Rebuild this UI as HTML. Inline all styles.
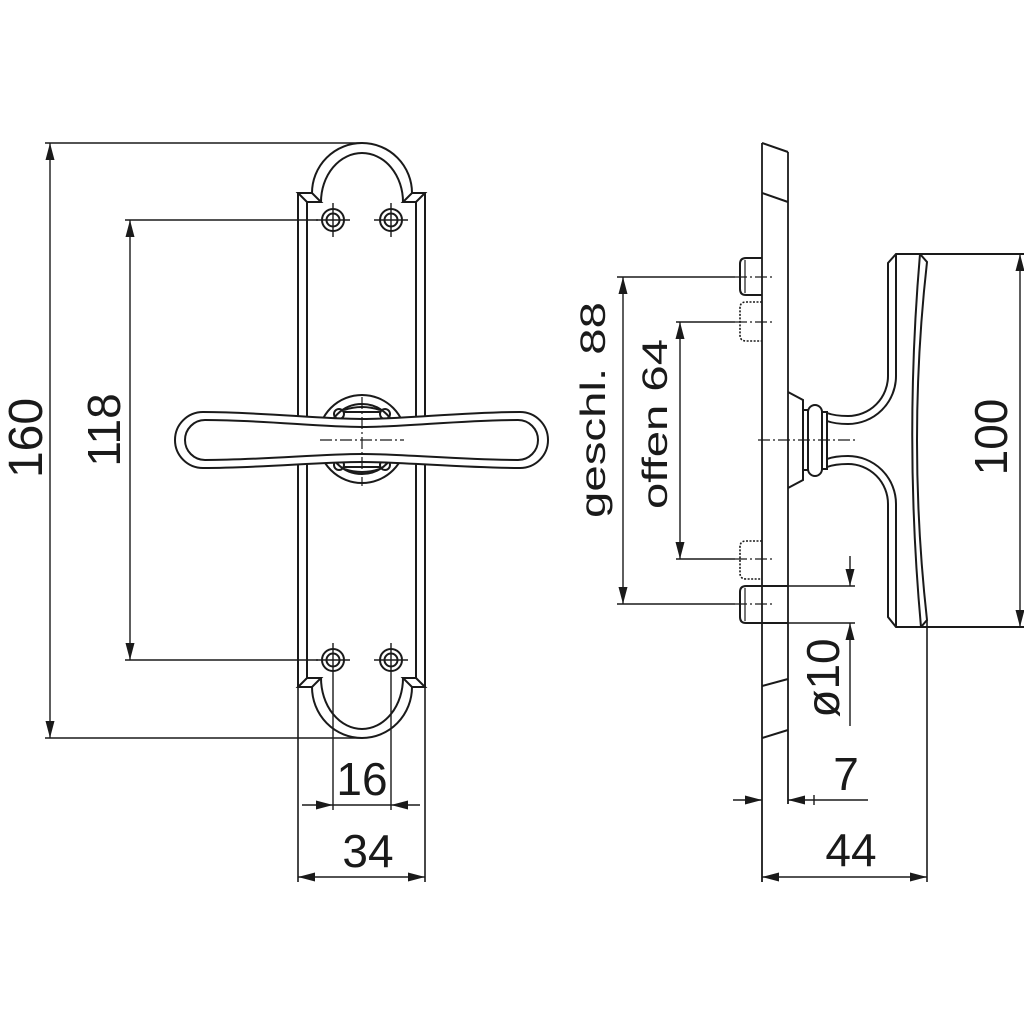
<!DOCTYPE html>
<html><head><meta charset="utf-8"><style>
html,body{margin:0;padding:0;background:#fff;}
svg{display:block;}
text{font-family:"Liberation Sans",Arial,sans-serif;fill:#1a1a1a;}
</style></head><body>
<svg width="1024" height="1024" viewBox="0 0 1024 1024" xmlns="http://www.w3.org/2000/svg">
<rect width="1024" height="1024" fill="#fff"/>
<g fill="none" stroke="#1a1a1a" stroke-linecap="butt">

<!-- ===== FRONT VIEW ===== -->
<g stroke-width="2">
  <!-- plate verticals -->
  <line x1="298" y1="193" x2="298" y2="882" stroke-width="1.6"/>
  <line x1="425" y1="193" x2="425" y2="882" stroke-width="1.6"/>
  <line x1="298" y1="193" x2="298" y2="687"/>
  <line x1="425" y1="193" x2="425" y2="687"/>
  <line x1="307" y1="202" x2="307" y2="678"/>
  <line x1="416" y1="202" x2="416" y2="678"/>
  <!-- top bevels -->
  <path d="M298,193 L312,193 L321,202 L307,202 Z"/>
  <path d="M425,193 L412,193 L403,202 L416,202 Z"/>
  <!-- top arch -->
  <path d="M312,193 A50 50 0 0 1 412,193"/>
  <path d="M321,202 A41 49 0 0 1 403,202"/>
  <!-- bottom bevels -->
  <path d="M298,687 L312,687 L321,678 L307,678 Z"/>
  <path d="M425,687 L412,687 L403,678 L416,678 Z"/>
  <!-- bottom arch -->
  <path d="M312,687 A50 51 0 0 0 412,687"/>
  <path d="M321,678 A41 51 0 0 0 403,678"/>
  <!-- screws -->
  <circle cx="333" cy="220" r="11"/><circle cx="333" cy="220" r="6.5"/>
  <circle cx="391" cy="220" r="11"/><circle cx="391" cy="220" r="6.5"/>
  <circle cx="333" cy="660" r="11"/><circle cx="333" cy="660" r="6.5"/>
  <circle cx="391" cy="660" r="11"/><circle cx="391" cy="660" r="6.5"/>
</g>
<g stroke-width="1.4">
  <line x1="316" y1="220" x2="350" y2="220"/><line x1="333" y1="203" x2="333" y2="237"/>
  <line x1="374" y1="220" x2="408" y2="220"/><line x1="391" y1="203" x2="391" y2="237"/>
  <line x1="316" y1="660" x2="350" y2="660"/><line x1="333" y1="643" x2="333" y2="810"/>
  <line x1="374" y1="660" x2="408" y2="660"/><line x1="391" y1="643" x2="391" y2="810"/>
</g>
<!-- rosette -->
<g stroke-width="2">
  <circle cx="362" cy="439" r="44"/>
  <circle cx="362" cy="439" r="35"/>
  <circle cx="339" cy="414" r="5"/><circle cx="385" cy="414" r="5"/>
  <circle cx="339" cy="465" r="5"/><circle cx="385" cy="465" r="5"/>
  <path d="M344,410 Q362,404 380,410"/>
  <path d="M344,469 Q362,475 380,469"/>
  <line x1="344" y1="412" x2="380" y2="412"/>
  <line x1="344" y1="467" x2="380" y2="467"/>
</g>
<!-- handle -->
<path d="M203,412 C260,412 320,419 362,419 C404,419 464,412 520,412 A28 28 0 0 1 520,468 C464,468 404,462 362,462 C320,462 260,468 203,468 A28 28 0 0 1 203,412 Z" fill="#fff" stroke-width="2"/>
<path d="M205,420 C262,420 320,427 362,427 C404,427 462,420 518,420 A20 20 0 0 1 518,460 C462,460 404,454 362,454 C320,454 262,460 205,460 A20 20 0 0 1 205,420 Z" stroke-width="2"/>
<!-- centerlines -->
<g stroke-width="1.2" stroke-dasharray="12 3 2 3">
  <line x1="320" y1="440" x2="404" y2="440"/>
  <line x1="362" y1="397" x2="362" y2="486"/>
</g>

<!-- front dims -->
<g stroke-width="1.4">
  <line x1="45" y1="143" x2="362" y2="143"/>
  <line x1="45" y1="738" x2="362" y2="738"/>
  <line x1="50" y1="143" x2="50" y2="738"/>
  <line x1="125" y1="220" x2="318" y2="220"/>
  <line x1="125" y1="660" x2="318" y2="660"/>
  <line x1="130" y1="220" x2="130" y2="660"/>
  <line x1="302" y1="805" x2="420" y2="805"/>
  <line x1="298" y1="877" x2="425" y2="877"/>
</g>
<g fill="#1a1a1a" stroke="none">
  <polygon points="50,143 45.5,160 54.5,160"/>
  <polygon points="50,738 45.5,721 54.5,721"/>
  <polygon points="130,220 125.5,237 134.5,237"/>
  <polygon points="130,660 125.5,643 134.5,643"/>
  <polygon points="333,805 316,800.5 316,809.5"/>
  <polygon points="391,805 408,800.5 408,809.5"/>
  <polygon points="298,877 315,872.5 315,881.5"/>
  <polygon points="425,877 408,872.5 408,881.5"/>
</g>

<!-- ===== SIDE VIEW ===== -->
<g stroke-width="2">
  <line x1="762" y1="143" x2="762" y2="882" stroke-width="1.8"/>
  <line x1="788" y1="152" x2="788" y2="804" stroke-width="1.8"/>
  <line x1="762" y1="143" x2="788" y2="152"/>
  <line x1="762" y1="193" x2="788" y2="202"/>
  <line x1="762" y1="686" x2="788" y2="679"/>
  <line x1="762" y1="738" x2="788" y2="730"/>
  <!-- pins -->
  <path d="M762,258 L746,258 Q740,258 740,264 L740,289 Q740,295 746,295 L762,295"/>
  <line x1="745" y1="260" x2="745" y2="293" stroke-width="1.2"/>
  <path d="M762,586 L746,586 Q740,586 740,592 L740,617 Q740,623 746,623 L762,623"/>
  <line x1="745" y1="588" x2="745" y2="621" stroke-width="1.2"/>
  <line x1="788" y1="586" x2="855" y2="586" stroke-width="1.6"/>
  <line x1="788" y1="623" x2="855" y2="623" stroke-width="1.6"/>
  <line x1="762" y1="586" x2="788" y2="586"/>
  <line x1="762" y1="623" x2="788" y2="623"/>
</g>
<g stroke-width="1.6" stroke-dasharray="2 1.5">
  <path d="M762,302 L746,302 Q740,302 740,308 L740,335 Q740,341 746,341 L762,341"/>
  <path d="M762,541 L746,541 Q740,541 740,547 L740,573 Q740,579 746,579 L762,579"/>
</g>
<!-- rose + handle side -->
<g stroke-width="2">
  <path d="M788,392 L803,400 L803,480 L788,488"/>
  <rect x="803" y="410" width="5" height="60"/>
  <rect x="808" y="405" width="14" height="71" rx="7" ry="7" fill="#fff"/>
  <rect x="822" y="412" width="5" height="57"/>
  <path d="M827,413 Q835,416 848,416 A40 40 0 0 0 888,376 L888,263 L896,254 L1024,254"/>
  <path d="M827,421 Q835,424 848,424 A48 48 0 0 0 896,376 L896,254"/>
  <path d="M827,467 Q835,464 848,464 A40 40 0 0 1 888,504 L888,617 L896,627 L1024,627"/>
  <path d="M827,459 Q835,456 848,456 A48 48 0 0 1 896,504 L896,627"/>
  <path d="M920,254 Q904,440 921,627"/>
  <path d="M920,254 L927,262 Q907,440 927,620 L921,627"/>
  <line x1="927" y1="620" x2="927" y2="882" stroke-width="1.6"/>
</g>
<g stroke-width="1.2" stroke-dasharray="12 3 2 3">
  <line x1="758" y1="440" x2="858" y2="440"/>
  <line x1="735" y1="277" x2="773" y2="277"/>
  <line x1="735" y1="322" x2="773" y2="322"/>
  <line x1="735" y1="559" x2="773" y2="559"/>
  <line x1="735" y1="604" x2="773" y2="604"/>
</g>
<!-- side dims -->
<g stroke-width="1.4">
  <line x1="617" y1="277" x2="735" y2="277"/>
  <line x1="617" y1="604" x2="735" y2="604"/>
  <line x1="623" y1="277" x2="623" y2="604"/>
  <line x1="676" y1="322" x2="735" y2="322"/>
  <line x1="676" y1="559" x2="735" y2="559"/>
  <line x1="680" y1="322" x2="680" y2="559"/>
  <line x1="1020" y1="254" x2="1020" y2="627"/>
  <line x1="850" y1="556" x2="850" y2="586"/>
  <line x1="850" y1="623" x2="850" y2="726"/>
  <line x1="733" y1="800" x2="762" y2="800"/>
  <line x1="788" y1="800" x2="868" y2="800"/>
  <line x1="814" y1="795" x2="814" y2="805"/>
  <line x1="762" y1="877" x2="927" y2="877"/>
</g>
<g fill="#1a1a1a" stroke="none">
  <polygon points="623,277 618.5,294 627.5,294"/>
  <polygon points="623,604 618.5,587 627.5,587"/>
  <polygon points="680,322 675.5,339 684.5,339"/>
  <polygon points="680,559 675.5,542 684.5,542"/>
  <polygon points="1020,254 1015.5,271 1024.5,271"/>
  <polygon points="1020,627 1015.5,610 1024.5,610"/>
  <polygon points="850,586 845.5,569 854.5,569"/>
  <polygon points="850,623 845.5,640 854.5,640"/>
  <polygon points="762,800 745,795.5 745,804.5"/>
  <polygon points="788,800 805,795.5 805,804.5"/>
  <polygon points="762,877 779,872.5 779,881.5"/>
  <polygon points="927,877 910,872.5 910,881.5"/>
</g>
</g>

<!-- TEXT -->
<text x="362" y="795" font-size="46" text-anchor="middle">16</text>
<text x="368" y="867" font-size="46" text-anchor="middle">34</text>
<text x="846" y="790" font-size="46" text-anchor="middle">7</text>
<text x="851" y="866" font-size="46" text-anchor="middle">44</text>
<text transform="translate(42,438) rotate(-90)" font-size="48" text-anchor="middle">160</text>
<text transform="translate(120,430) rotate(-90)" font-size="46" text-anchor="middle">118</text>
<text transform="translate(1007,437) rotate(-90)" font-size="46" text-anchor="middle">100</text>
<text transform="translate(839,678) rotate(-90)" font-size="46" text-anchor="middle">ø10</text>
<text transform="translate(605,518) rotate(-90)" font-size="35" textLength="216" lengthAdjust="spacingAndGlyphs">geschl. 88</text>
<text transform="translate(667,509) rotate(-90)" font-size="35" textLength="170" lengthAdjust="spacingAndGlyphs">offen 64</text>
</svg>
</body></html>
